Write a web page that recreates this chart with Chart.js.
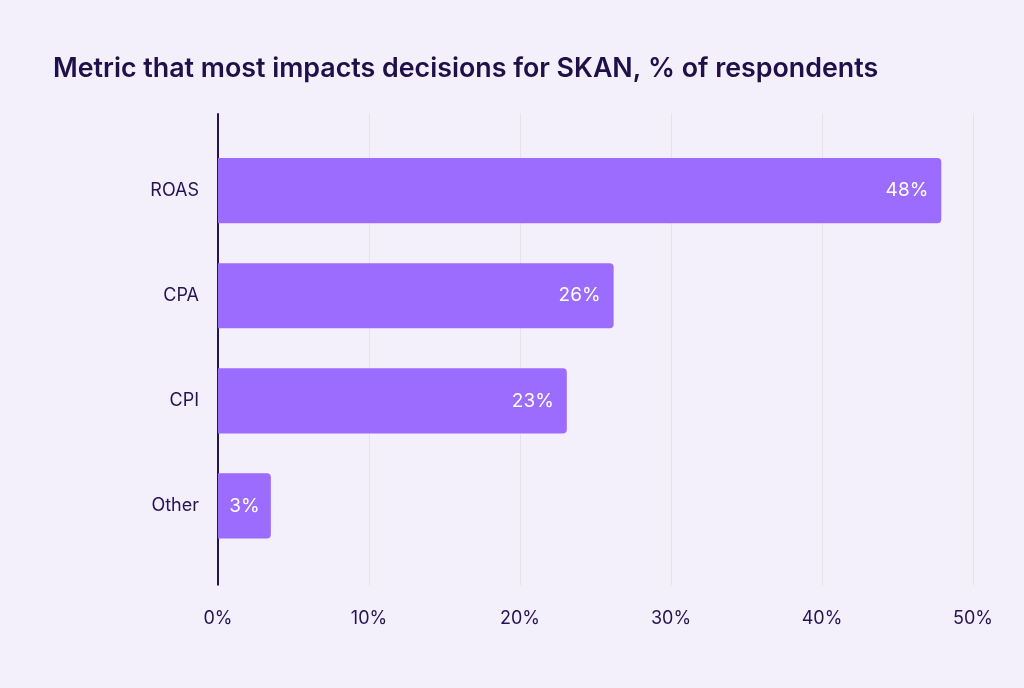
<!DOCTYPE html>
<html>
<head>
<meta charset="utf-8">
<script src="https://cdn.jsdelivr.net/npm/chart.js@4"></script>
<style>
  body { margin: 0; background: #f4f0fb; }
  #wrap { width: 1024px; height: 688px; }
</style>
</head>
<body>
<div id="wrap"><canvas id="myChart" width="1024" height="688"></canvas></div>
<script>
const categories = ['ROAS', 'CPA', 'CPI', 'Other'];
const shares = [47.9, 26.2, 23.1, 3.5]; // % of respondents
const shareLabels = ['48%', '26%', '23%', '3%'];
const xTicks = [0, 10, 20, 30, 40, 50];

const inkColor = '#241453';

// vertical grid lines + y axis line reach a bit past the bars
const gridLines = {
    id: 'gridLines',
    beforeDatasetsDraw(chart) {
        const { ctx, chartArea, scales } = chart;
        const top = chartArea.top - 25;
        const bottom = chartArea.bottom + 27;
        ctx.save();
        xTicks.forEach(function (v) {
            const x = Math.round(scales.x.getPixelForValue(v));
            ctx.beginPath();
            if (v === 0) {
                ctx.strokeStyle = inkColor;
                ctx.lineWidth = 2;
            } else {
                ctx.strokeStyle = '#e7e2ea';
                ctx.lineWidth = 1;
            }
            const off = v === 0 ? 0 : 0.5;
            ctx.moveTo(x + off, top);
            ctx.lineTo(x + off, bottom);
            ctx.stroke();
        });
        ctx.restore();
    }
};

const barLabels = {
    id: 'barLabels',
    afterDatasetsDraw(chart) {
        const { ctx } = chart;
        const meta = chart.getDatasetMeta(0);
        ctx.save();
        ctx.fillStyle = '#ffffff';
        ctx.font = '19px Inter, sans-serif';
        ctx.textBaseline = 'middle';
        meta.data.forEach(function (bar, i) {
            const text = shareLabels[i];
            const w = ctx.measureText(text).width;
            const barW = bar.x - bar.base;
            if (barW < w + 30) {
                ctx.textAlign = 'center';
                ctx.fillText(text, (bar.x + bar.base) / 2, bar.y);
            } else {
                ctx.textAlign = 'right';
                ctx.fillText(text, bar.x - 13, bar.y);
            }
        });
        ctx.restore();
    }
};

const ctx = document.getElementById('myChart');

new Chart(ctx, {
    type: 'bar',
    data: {
        labels: categories,
        datasets: [{
            label: 'Share',
            data: shares,
            backgroundColor: '#9c6bff',
            borderRadius: 4,
            borderSkipped: 'start',
            barPercentage: 1,
            categoryPercentage: 0.62
        }]
    },
    options: {
        indexAxis: 'y',
        responsive: false,
        animation: false,
        layout: {
            padding: { top: 53, left: 53, right: 51, bottom: 10 }
        },
        plugins: {
            legend: { display: false },
            tooltip: { enabled: false },
            title: {
                display: true,
                text: 'Metric that most impacts decisions for SKAN, % of respondents',
                align: 'start',
                color: '#1f1049',
                font: { family: 'Inter, sans-serif', size: 26.8, weight: '600' },
                padding: { top: 0, bottom: 53 }
            }
        },
        scales: {
            x: {
                min: 0,
                max: 50,
                afterBuildTicks(scale) {
                    scale.ticks = xTicks.map(function (v) { return { value: v }; });
                },
                afterFit(scale) {
                    scale.paddingLeft = 0;
                    scale.paddingRight = 0;
                },
                grid: { display: false, drawTicks: false },
                border: { display: false },
                ticks: {
                    color: inkColor,
                    font: { family: 'Inter, sans-serif', size: 18 },
                    padding: 49,
                    callback: function (v) { return v + '%'; }
                }
            },
            y: {
                afterFit(scale) { scale.width = 165; },
                grid: { display: false, drawTicks: false },
                border: { display: false },
                ticks: {
                    color: inkColor,
                    font: { family: 'Inter, sans-serif', size: 18 },
                    padding: 19
                }
            }
        }
    },
    plugins: [gridLines, barLabels]
});
</script>
</body>
</html>
